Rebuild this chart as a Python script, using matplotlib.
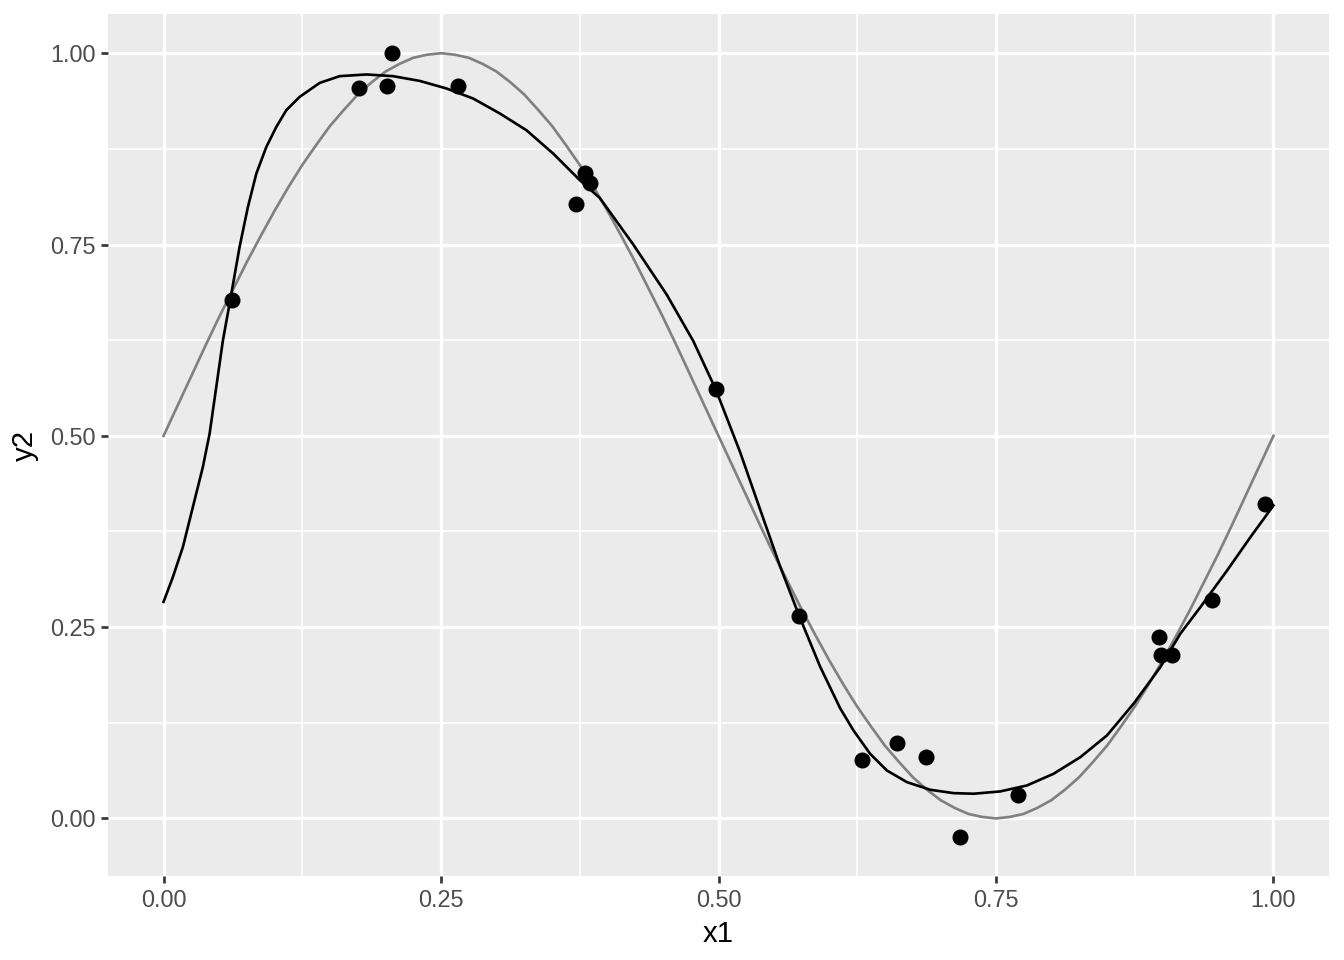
import numpy as np
import matplotlib.pyplot as plt

plt.rcParams['font.family'] = ['Liberation Sans', 'DejaVu Sans']

# observed points
x1 = [0.0613, 0.1758, 0.2010, 0.2056, 0.2650, 0.3715, 0.3796, 0.3840, 0.4977, 0.5726,
      0.6294, 0.6610, 0.6870, 0.7178, 0.7700, 0.8972, 0.8990, 0.9090, 0.9450, 0.9928]
y2 = [0.678, 0.954, 0.957, 1.000, 0.957, 0.803, 0.844, 0.830, 0.561, 0.264,
      0.076, 0.099, 0.080, -0.024, 0.030, 0.237, 0.214, 0.213, 0.285, 0.411]

# grey reference curve
true_x = [0.0, 0.0125, 0.025, 0.0375, 0.05, 0.0625, 0.075, 0.0875, 0.1, 0.1125,
          0.125, 0.1375, 0.15, 0.1625, 0.175, 0.1875, 0.2, 0.2125, 0.225, 0.2375,
          0.25, 0.2625, 0.275, 0.2875, 0.3, 0.3125, 0.325, 0.3375, 0.35, 0.3625,
          0.375, 0.3875, 0.4, 0.4125, 0.425, 0.4375, 0.45, 0.4625, 0.475, 0.4875,
          0.5, 0.5125, 0.525, 0.5375, 0.55, 0.5625, 0.575, 0.5875, 0.6, 0.6125,
          0.625, 0.6375, 0.65, 0.6625, 0.675, 0.6875, 0.7, 0.7125, 0.725, 0.7375,
          0.75, 0.7625, 0.775, 0.7875, 0.8, 0.8125, 0.825, 0.8375, 0.85, 0.8625,
          0.875, 0.8875, 0.9, 0.9125, 0.925, 0.9375, 0.95, 0.9625, 0.975, 0.9875, 1.0]
true_y = [0.5, 0.539, 0.578, 0.617, 0.655, 0.691, 0.727, 0.761, 0.794, 0.825,
          0.854, 0.880, 0.905, 0.926, 0.946, 0.962, 0.976, 0.986, 0.994, 0.998,
          1.0, 0.998, 0.994, 0.986, 0.976, 0.962, 0.946, 0.926, 0.905, 0.880,
          0.854, 0.825, 0.794, 0.761, 0.727, 0.691, 0.655, 0.617, 0.578, 0.539,
          0.5, 0.461, 0.422, 0.383, 0.345, 0.309, 0.273, 0.239, 0.206, 0.175,
          0.146, 0.120, 0.095, 0.074, 0.054, 0.038, 0.024, 0.014, 0.006, 0.002,
          0.0, 0.002, 0.006, 0.014, 0.024, 0.038, 0.054, 0.074, 0.095, 0.120,
          0.146, 0.175, 0.206, 0.239, 0.273, 0.309, 0.345, 0.383, 0.422, 0.461, 0.5]

# black fitted curve
fit_x = [0.0, 0.0084, 0.0174, 0.0264, 0.0354, 0.0415, 0.0475, 0.0535, 0.0595, 0.0685,
         0.076, 0.0836, 0.0926, 0.1016, 0.1106, 0.1226, 0.1407, 0.1587, 0.1828, 0.2068,
         0.2308, 0.2549, 0.2789, 0.303, 0.327, 0.351, 0.3751, 0.3931, 0.4232, 0.4533,
         0.4773, 0.4975, 0.5194, 0.5374, 0.5555, 0.5729, 0.5915, 0.6096, 0.6216, 0.6366,
         0.6517, 0.6697, 0.6907, 0.7117, 0.7298, 0.7538, 0.7779, 0.8019, 0.826, 0.85,
         0.874, 0.8981, 0.9161, 0.9342, 0.9583, 0.9793, 1.0]
fit_y = [0.283, 0.3154, 0.3546, 0.4069, 0.4592, 0.5029, 0.5638, 0.6248, 0.6728, 0.7468,
         0.799, 0.8427, 0.8775, 0.9037, 0.9255, 0.9429, 0.9612, 0.970, 0.9722, 0.970,
         0.9638, 0.9539, 0.9408, 0.9212, 0.8993, 0.8689, 0.834, 0.8107, 0.75, 0.6846,
         0.6238, 0.5607, 0.479, 0.4042, 0.3294, 0.264, 0.1986, 0.144, 0.115, 0.0845,
         0.0627, 0.0475, 0.0375, 0.0331, 0.0323, 0.0353, 0.0431, 0.0584, 0.0801, 0.1085,
         0.15, 0.1978, 0.2414, 0.2762, 0.3242, 0.3677, 0.409]

ticks = [0.0, 0.25, 0.5, 0.75, 1.0]
tick_labels = ['0.00', '0.25', '0.50', '0.75', '1.00']

fig = plt.figure(figsize=(7, 5), dpi=192)
ax = fig.add_axes([0.0804, 0.0875, 0.9084, 0.8979])
ax.set_facecolor('#EBEBEB')
for s in ax.spines.values():
    s.set_visible(False)

ax.set_xlim(-0.05, 1.05)
ax.set_ylim(-0.0752, 1.0512)
ax.set_xticks(ticks)
ax.set_xticklabels(tick_labels)
ax.set_yticks(ticks)
ax.set_yticklabels(tick_labels)
ax.set_xticks([0.125, 0.375, 0.625, 0.875], minor=True)
ax.set_yticks([0.125, 0.375, 0.625, 0.875], minor=True)
ax.grid(which='major', color='white', linewidth=1.2)
ax.grid(which='minor', color='white', linewidth=0.6)
ax.set_axisbelow(True)
ax.tick_params(which='major', length=2.75, width=1.0, color='#333333',
               labelcolor='#4D4D4D', labelsize=8.8, pad=2)
ax.tick_params(which='minor', length=0)

ax.plot(true_x, true_y, color='#808080', linewidth=1.0, solid_joinstyle='round')
ax.plot(fit_x, fit_y, color='black', linewidth=1.0, solid_joinstyle='round')
ax.plot(x1, y2, 'o', color='black', markersize=5)

ax.set_xlabel('x1', fontsize=11, color='black', labelpad=3)
ax.set_ylabel('y2', fontsize=11, color='black', labelpad=4)

fig.savefig('out.png', dpi=192)
